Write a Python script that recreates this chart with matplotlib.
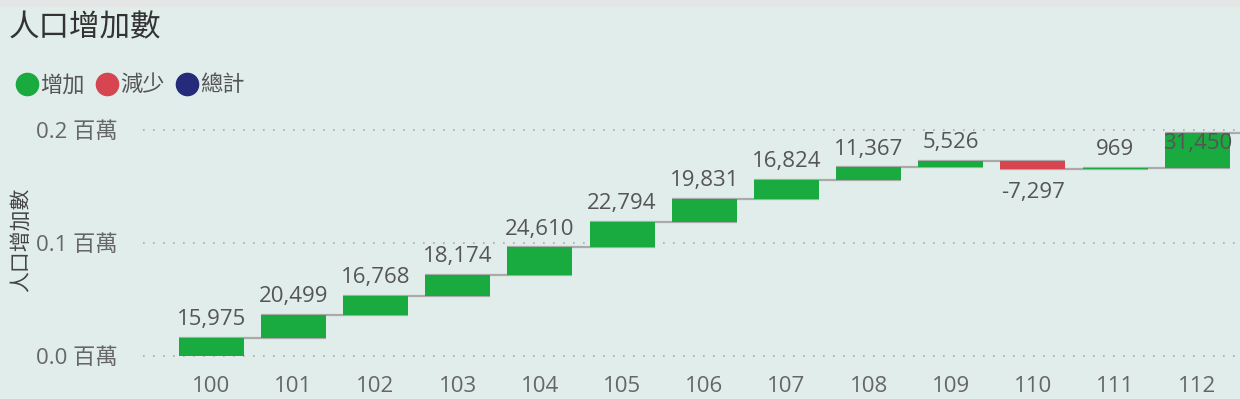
import numpy as np
import matplotlib
matplotlib.use("Agg")
import matplotlib.pyplot as plt
from matplotlib.lines import Line2D
from matplotlib.patches import Rectangle

plt.rcParams['font.family'] = ['Open Sans', 'Noto Sans CJK TC', 'DejaVu Sans']

years = ['100', '101', '102', '103', '104', '105', '106', '107', '108', '109', '110', '111', '112']
changes = [15975, 20499, 16768, 18174, 24610, 22794, 19831, 16824, 11367, 5526, -7297, 969, 31450]

GREEN = '#1AAB40'
RED = '#D64550'
NAVY = '#252A7A'
BG = '#E1EDEA'
TEXT = '#555555'

ends = np.cumsum(changes)
starts = ends - np.array(changes)

fig = plt.figure(figsize=(12.4, 3.99), dpi=100, facecolor=BG)
fig.patches.append(Rectangle((0, 0.985), 1, 0.015, transform=fig.transFigure,
                             color='#E4E6E6', zorder=0))
ax = fig.add_axes([0.1153, 0.0827, 0.8847, 0.6216])
ax.set_facecolor(BG)

ymin, ymax = -8850, 210600
ax.set_xlim(-0.83, 12.52)
ax.set_ylim(ymin, ymax)

w = 0.79
x = np.arange(len(years))
for i, (s, e, c) in enumerate(zip(starts, ends, changes)):
    col = GREEN if c >= 0 else RED
    ax.bar(i, e - s, bottom=s, width=w, color=col, zorder=3)
    # connector to next bar
    ax.plot([i - w / 2, i + 1 + w / 2], [e, e], color='#AAAAAA', lw=1.6, zorder=2,
            solid_capstyle='butt')
    if c >= 0:
        top = e
        if top + 17000 > ymax:
            ax.text(i, top - 500, f'{c:,}', ha='center', va='top', fontsize=16,
                    color=TEXT, zorder=4)
        else:
            ax.text(i, top + 7000, f'{c:,}', ha='center', va='bottom', fontsize=16,
                    color=TEXT, zorder=4)
    else:
        ax.text(i, e - 11000, f'{c:,}', ha='center', va='top', fontsize=16,
                color=TEXT, zorder=4)

ax.set_yticks([0, 100000, 200000])
ax.set_yticklabels(['0.0 百萬', '0.1 百萬', '0.2 百萬'])
ax.set_xticks(x)
ax.set_xticklabels(years)
ax.tick_params(axis='both', length=0, labelsize=16, colors='#666666')
ax.tick_params(axis='y', pad=18)
ax.tick_params(axis='x', pad=7)
ax.yaxis.grid(True, linestyle=(0, (1, 5)), color='#AAAAAA', lw=1.2, zorder=0)
for sp in ax.spines.values():
    sp.set_visible(False)

fig.text(0.0175, 0.4, '人口增加數', rotation=90, ha='center', va='center',
         fontsize=15, color='#444444')

fig.text(0.007, 0.93, '人口增加數', ha='left', va='center', fontsize=22, color='#333333')

handles = [Line2D([], [], marker='o', ls='', markersize=16, color=c) for c in (GREEN, RED, NAVY)]
fig.legend(handles, ['增加', '減少', '總計'], loc='center left', bbox_to_anchor=(0.0, 0.785),
           ncol=3, frameon=False, fontsize=16, handletextpad=0.0, columnspacing=0.4,
           labelcolor='#555555', borderaxespad=0.2, handlelength=1.2)

fig.savefig('out.png', dpi=100, facecolor=BG)
